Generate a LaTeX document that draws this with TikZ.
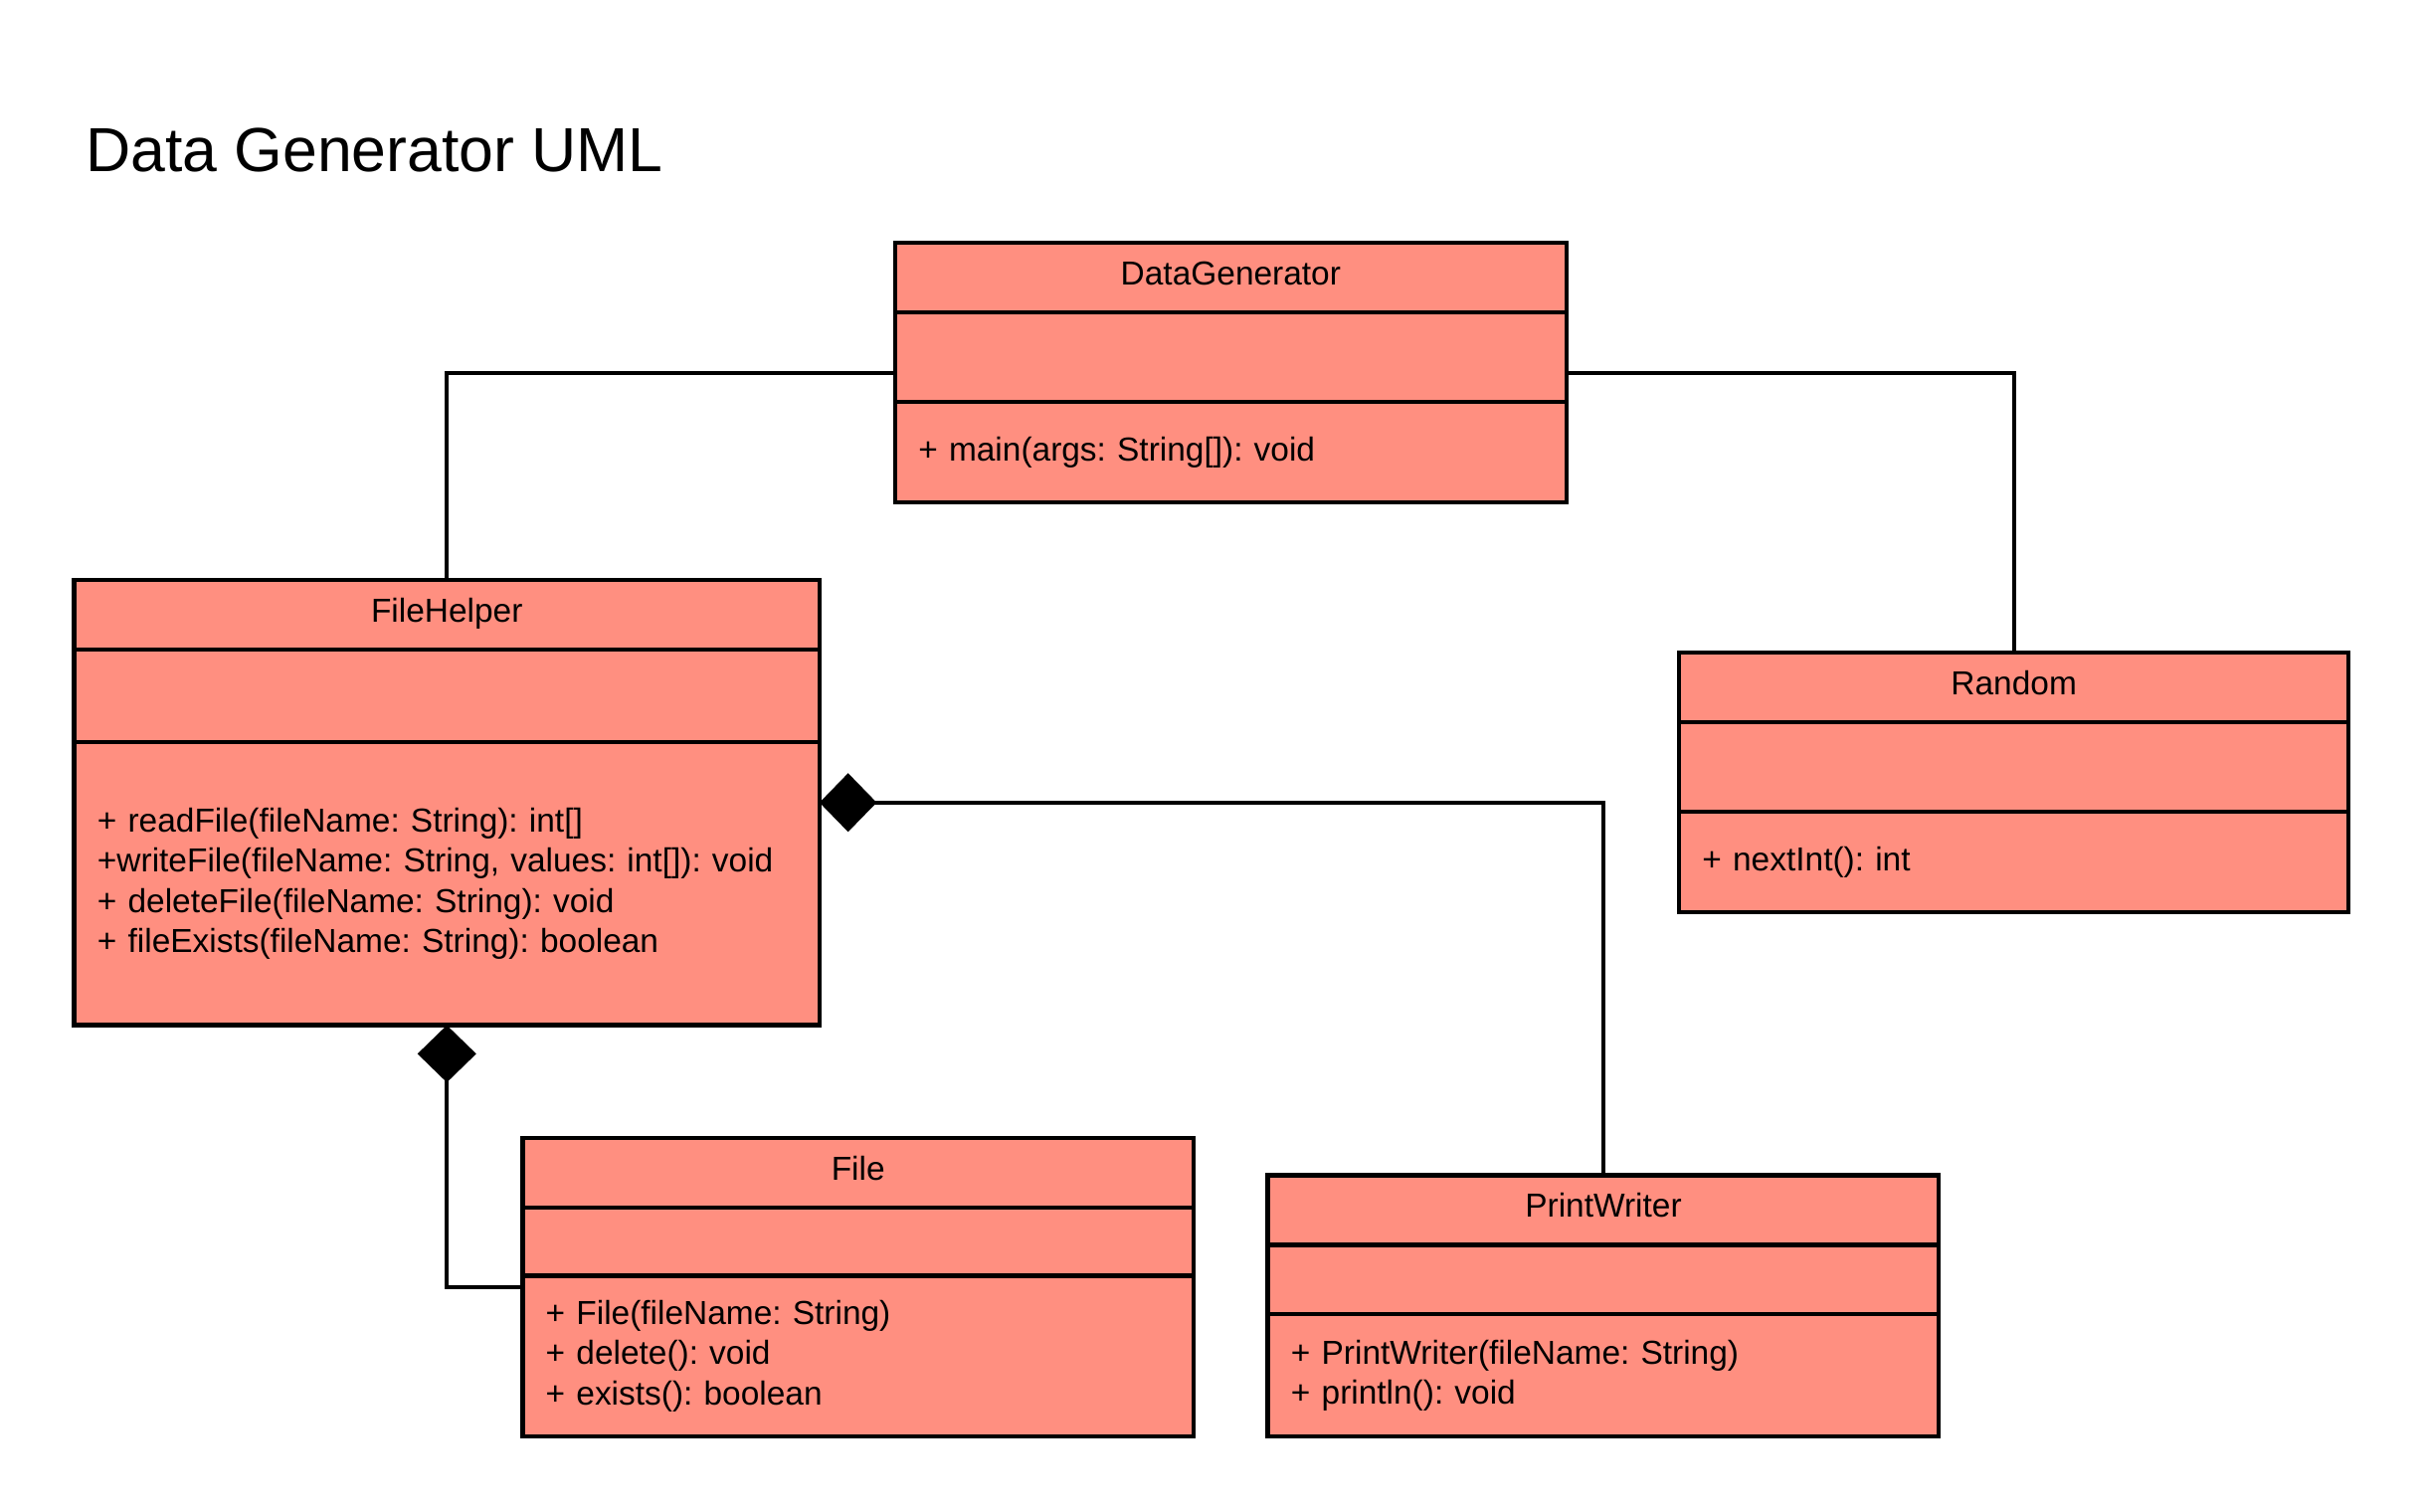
\documentclass[tikz,border=0pt]{standalone}
\usepackage{fontspec}
\setmainfont{Liberation Sans}
\usetikzlibrary{positioning,fit,arrows.meta}
\definecolor{classred}{HTML}{FF8F80}
\frenchspacing
\tikzset{
  compart/.style={draw, fill=classred, line width=1.4bp, outer sep=0pt, inner sep=0pt,
    font=\fontsize{10.8}{13}\selectfont},
  classhead/.style={compart, minimum height=22.5bp, anchor=north west, text height=7.7pt, text depth=3pt},
  classops/.style={compart, align=left, inner xsep=7.5bp},
  whole/.style={fit=#1, inner sep=0pt, outer sep=0pt},
  link/.style={line width=1.25bp},
  comp/.style={link, {Diamond[length=18.5bp,width=19bp]}-}
}
\begin{document}
\begin{tikzpicture}[x=0.5bp, y=-0.5bp]
        \useasboundingbox (0,0) rectangle (1568.4,977.2);
        % title
        \node[anchor=west, inner sep=0pt, font=\fontsize{20.2}{24}\selectfont] (title) at (55,97) {Data Generator UML};
        % DataGenerator
        \node[classhead, minimum width=217bp] (dgHead) at (579,157) {DataGenerator};
        \node[compart, minimum width=217bp, minimum height=29bp, below=0pt of dgHead] (dgAttr) {};
        \node[classops, text width=202bp, minimum height=32.5bp, below=0pt of dgAttr] (dgOps) {+ main(args: String[]): void};
        \node[whole={(dgHead)(dgOps)}] (dg) {};
        % FileHelper
        \node[classhead, minimum width=241bp] (fhHead) at (48,375) {FileHelper};
        \node[compart, minimum width=241bp, minimum height=30bp, below=0pt of fhHead] (fhAttr) {};
        \node[classops, text width=226bp, minimum height=91.5bp, below=0pt of fhAttr] (fhOps) {+ readFile(fileName: String): int[]\\+writeFile(fileName: String, values: int[]): void\\+ deleteFile(fileName: String): void\\+ fileExists(fileName: String): boolean};
        \node[whole={(fhHead)(fhOps)}] (fh) {};
        % Random
        \node[classhead, minimum width=216.5bp] (rdHead) at (1086,422) {Random};
        \node[compart, minimum width=216.5bp, minimum height=29bp, below=0pt of rdHead] (rdAttr) {};
        \node[classops, text width=201.5bp, minimum height=32.5bp, below=0pt of rdAttr] (rdOps) {+ nextInt(): int};
        % File
        \node[classhead, minimum width=217bp] (flHead) at (338,736) {File};
        \node[compart, minimum width=217bp, minimum height=22bp, below=0pt of flHead] (flAttr) {};
        \node[classops, text width=202bp, minimum height=52bp, below=0pt of flAttr] (flOps) {+ File(fileName: String)\\+ delete(): void\\+ exists(): boolean};
        \node[whole={(flHead)(flOps)}] (fl) {};
        % PrintWriter
        \node[classhead, minimum width=217bp] (pwHead) at (820,760) {PrintWriter};
        \node[compart, minimum width=217bp, minimum height=22.5bp, below=0pt of pwHead] (pwAttr) {};
        \node[classops, text width=202bp, minimum height=39.5bp, below=0pt of pwAttr] (pwOps) {+ PrintWriter(fileName: String)\\+ println(): void};
        % links
        \draw[link] (dg.west) -| (fhHead.north);
        \draw[link] (dg.east) -| (rdHead.north);
        \draw[comp] (fh.east) -| (pwHead.north);
        \draw[comp] (fh.south) |- (fl.west);
    \end{tikzpicture}
\end{document}
